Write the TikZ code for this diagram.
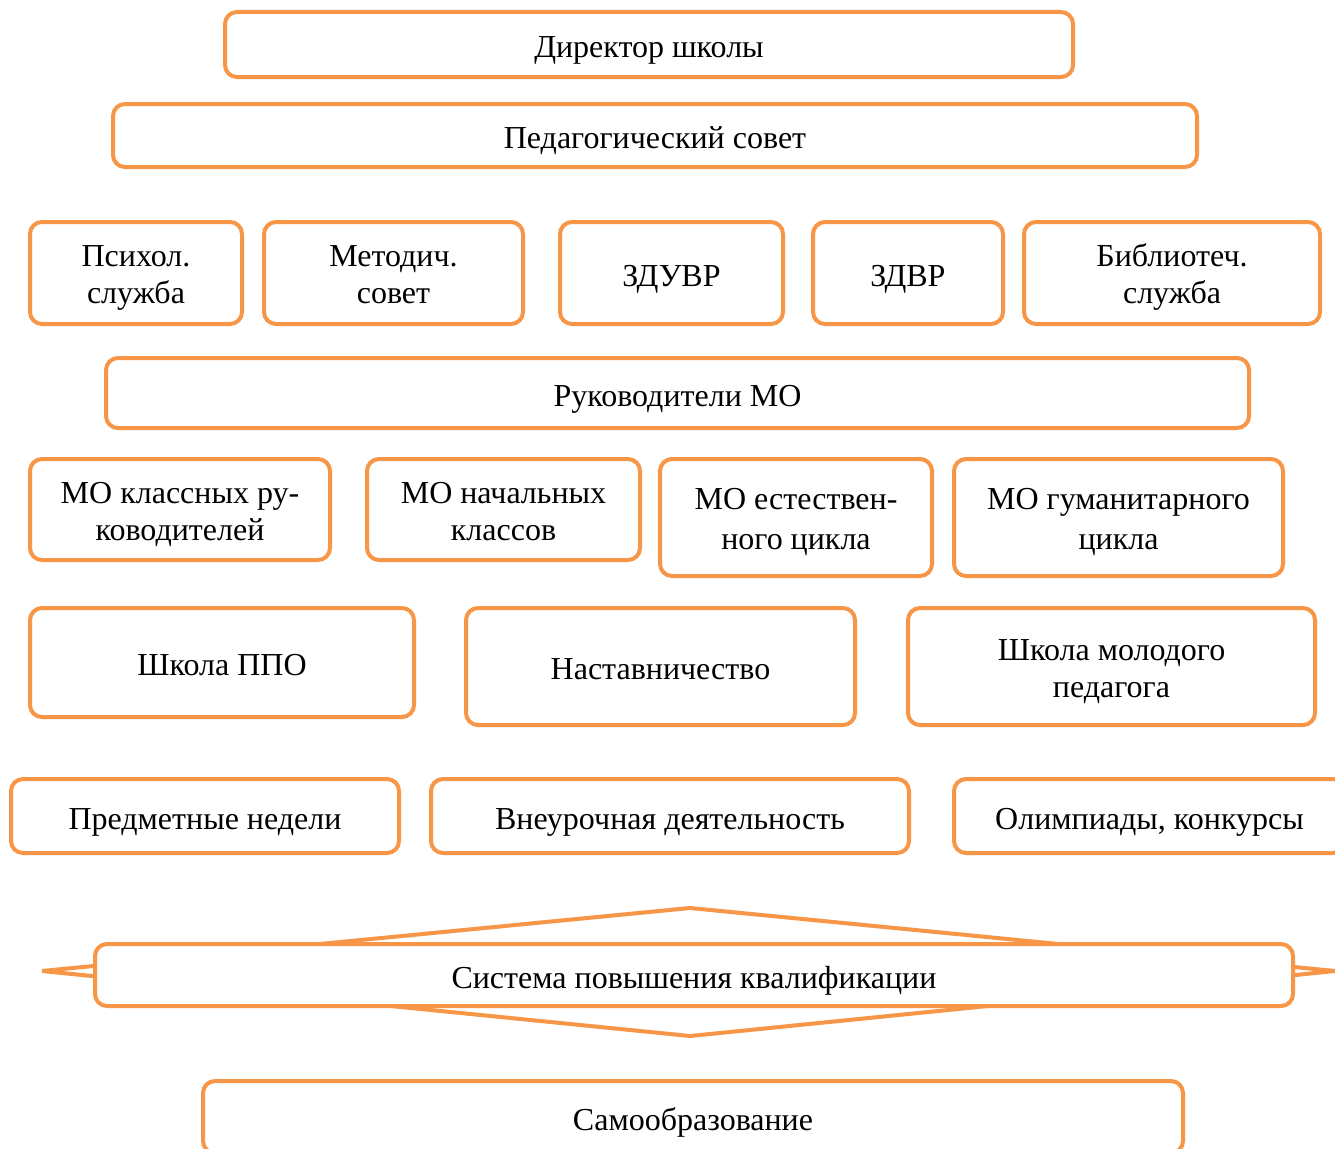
\documentclass[tikz,border=0pt]{standalone}
\usepackage{fontspec}
\setmainfont{Liberation Serif}
\definecolor{boxorange}{HTML}{F79646}
\newcommand\firststrut{\rule{0pt}{1.0em}}
\tikzset{
  orgbox/.style={draw=boxorange, line width=4pt, rounded corners=12pt, fill=white,
    align=center, inner sep=0pt, font=\fontsize{32}{37}\selectfont,
    execute at begin node={\rule[-0.22em]{0pt}{1.28em}}},
}
\begin{document}
\begin{tikzpicture}[x=1pt, y=-1pt]
\useasboundingbox[fill=white] (0,0) rectangle (1335,1148);

\node[orgbox, minimum width=848, minimum height=65] (dir) at (649,44.5) {Директор школы};
\node[orgbox, minimum width=1084, minimum height=63] (ped) at (655,135.5) {Педагогический совет};

\node[orgbox, minimum width=212, minimum height=102] (psy) at (136,273) {\firststrut Психол.\\служба};
\node[orgbox, minimum width=259, minimum height=102] (met) at (393.5,273) {\firststrut Методич.\\совет};
\node[orgbox, minimum width=223, minimum height=102] (zduvr) at (671.5,273) {ЗДУВР};
\node[orgbox, minimum width=190, minimum height=102] (zdvr) at (908,273) {ЗДВР};
\node[orgbox, minimum width=296, minimum height=102] (bib) at (1172,273) {\firststrut Библиотеч.\\служба};

\node[orgbox, minimum width=1143, minimum height=70] (ruk) at (677.5,393) {Руководители МО};

\node[orgbox, minimum width=300, minimum height=101] (mokl) at (180,509.5) {\firststrut МО классных ру-\\ководителей};
\node[orgbox, minimum width=273, minimum height=101] (monach) at (503.5,509.5) {\firststrut МО начальных\\классов};
\node[orgbox, minimum width=272, minimum height=117, font=\fontsize{32}{40}\selectfont] (moest) at (796,517.5) {\firststrut МО естествен-\\ного цикла};
\node[orgbox, minimum width=329, minimum height=117, font=\fontsize{32}{40}\selectfont] (mogum) at (1118.5,517.5) {\firststrut МО гуманитарного\\цикла};

\node[orgbox, minimum width=384, minimum height=109] (ppo) at (222,662.5) {Школа ППО};
\node[orgbox, minimum width=389, minimum height=117] (nast) at (660.5,666.5) {Наставничество};
\node[orgbox, minimum width=407, minimum height=117] (shmp) at (1111.5,666.5) {\firststrut Школа молодого\\педагога};

\node[orgbox, minimum width=388, minimum height=74] (pred) at (205,816) {Предметные недели};
\node[orgbox, minimum width=478, minimum height=74] (vneur) at (670,816) {Внеурочная деятельность};
\node[orgbox, minimum width=391, minimum height=74] (olimp) at (1149.5,816) {Олимпиады, конкурсы};

\coordinate (ltip) at (42,971);
\coordinate (apex) at (690,908);
\coordinate (rtip) at (1335,971);
\coordinate (foot) at (690,1036);
\draw[boxorange, line width=4pt] (ltip) -- (apex) -- (rtip) -- (foot) -- cycle;
\node[orgbox, minimum width=1198, minimum height=62] (sys) at (694,975) {Система повышения квалификации};

\node[orgbox, minimum width=980, minimum height=72] (samo) at (693,1117) {Самообразование};
\end{tikzpicture}
\end{document}
